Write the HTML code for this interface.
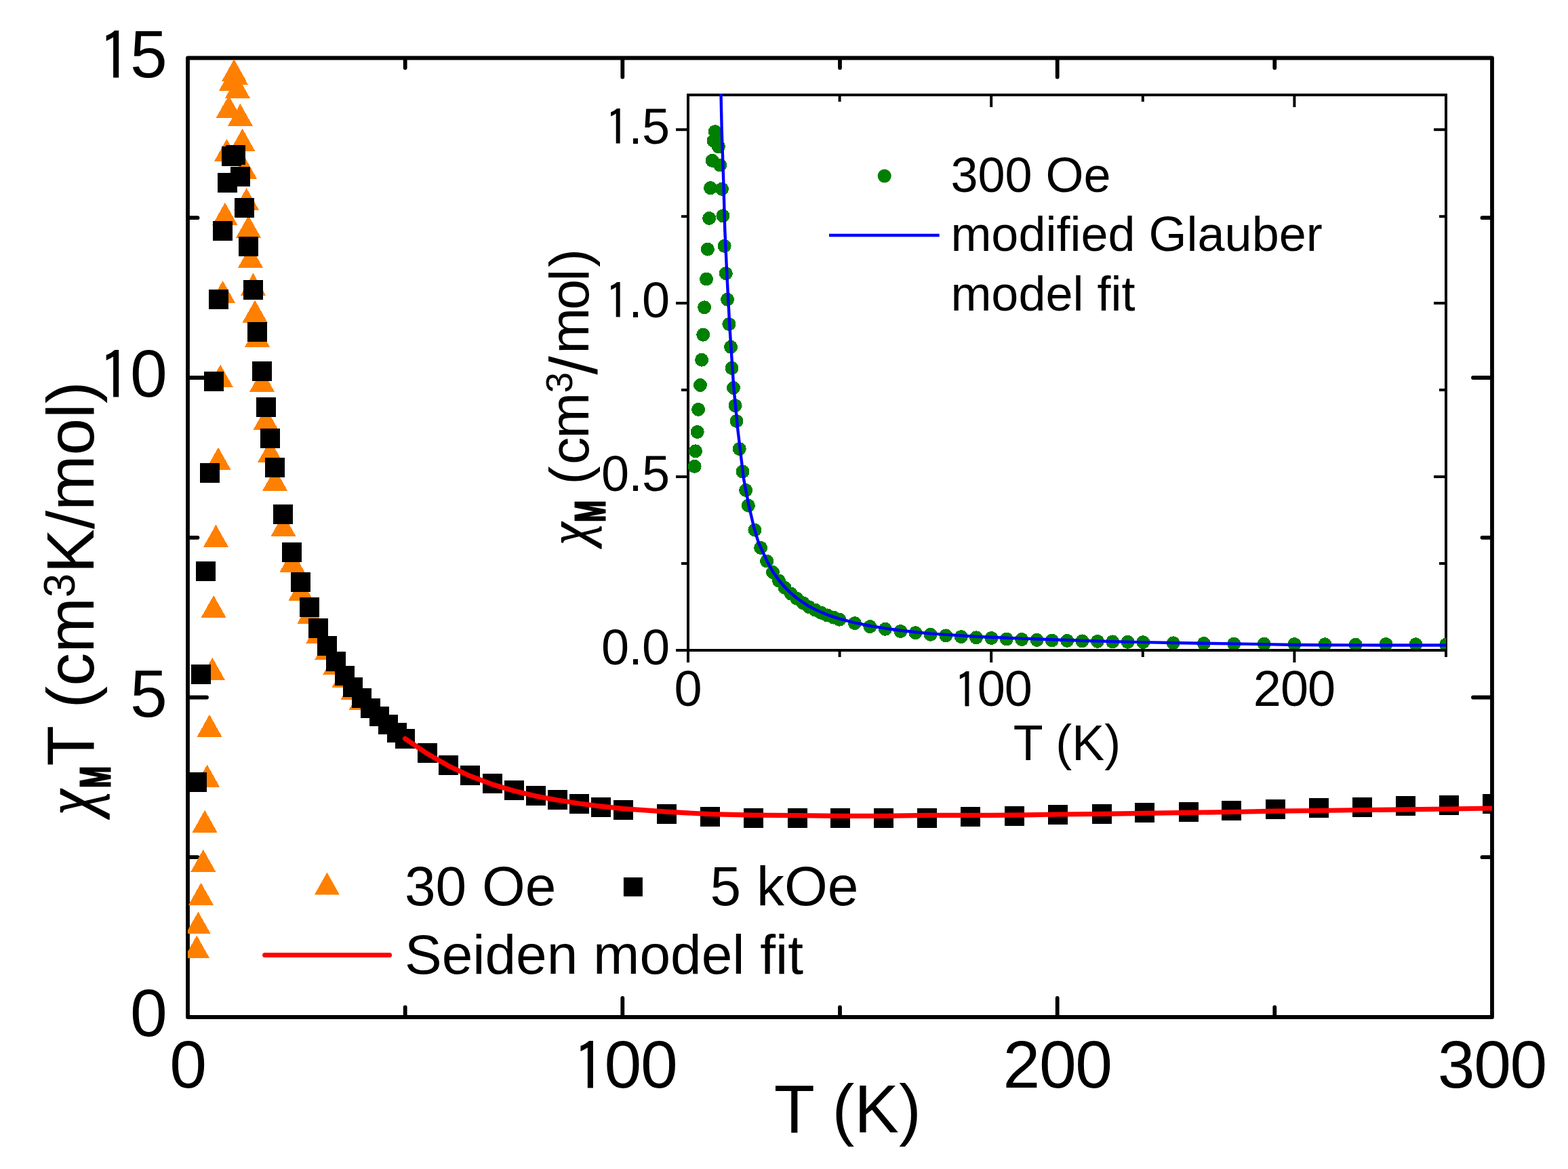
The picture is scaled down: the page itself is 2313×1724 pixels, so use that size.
<!DOCTYPE html>
<html lang="en"><head><meta charset="utf-8"><title>Magnetic susceptibility plot</title>
<style>html,body{margin:0;padding:0;background:#fff;}svg{display:block;}text{font-family:"Liberation Sans",sans-serif;fill:#000;}</style></head><body>
<svg width="2313" height="1724" viewBox="0 0 2313 1724">
<rect x="0" y="0" width="2313" height="1724" fill="#fff"/>
<defs><clipPath id="cm"><rect x="277" y="85.5" width="1924" height="1414.5"/></clipPath><clipPath id="ci"><rect x="1015" y="138" width="1118" height="819"/></clipPath></defs>
<g id="main-axes" stroke="#000" stroke-width="5.8" fill="none" stroke-linecap="round" stroke-linejoin="round">
<rect x="277.0" y="85.5" width="1924.0" height="1414.5"/>
<line x1="597.7" y1="1499.0" x2="597.7" y2="1485.5"/>
<line x1="597.7" y1="86.5" x2="597.7" y2="100.0"/>
<line x1="918.3" y1="1499.0" x2="918.3" y2="1472.0"/>
<line x1="918.3" y1="86.5" x2="918.3" y2="113.5"/>
<line x1="1239.0" y1="1499.0" x2="1239.0" y2="1485.5"/>
<line x1="1239.0" y1="86.5" x2="1239.0" y2="100.0"/>
<line x1="1559.7" y1="1499.0" x2="1559.7" y2="1472.0"/>
<line x1="1559.7" y1="86.5" x2="1559.7" y2="113.5"/>
<line x1="1880.3" y1="1499.0" x2="1880.3" y2="1485.5"/>
<line x1="1880.3" y1="86.5" x2="1880.3" y2="100.0"/>
<line x1="278.0" y1="1264.2" x2="291.5" y2="1264.2"/>
<line x1="2200.0" y1="1264.2" x2="2186.5" y2="1264.2"/>
<line x1="278.0" y1="1028.5" x2="305.0" y2="1028.5"/>
<line x1="2200.0" y1="1028.5" x2="2173.0" y2="1028.5"/>
<line x1="278.0" y1="792.8" x2="291.5" y2="792.8"/>
<line x1="2200.0" y1="792.8" x2="2186.5" y2="792.8"/>
<line x1="278.0" y1="557.0" x2="305.0" y2="557.0"/>
<line x1="2200.0" y1="557.0" x2="2173.0" y2="557.0"/>
<line x1="278.0" y1="321.2" x2="291.5" y2="321.2"/>
<line x1="2200.0" y1="321.2" x2="2186.5" y2="321.2"/>
</g>
<g id="main-data" clip-path="url(#cm)" shape-rendering="crispEdges">
<g id="series-30Oe" fill="#FF8000">
<polygon points="271.8,1412.5 308.8,1412.5 290.3,1379.5"/>
<polygon points="273.9,1377.4 310.9,1377.4 292.4,1344.4"/>
<polygon points="278.0,1334.8 315.0,1334.8 296.5,1301.8"/>
<polygon points="281.3,1285.8 318.3,1285.8 299.8,1252.8"/>
<polygon points="283.6,1227.7 320.6,1227.7 302.1,1194.7"/>
<polygon points="287.1,1160.6 324.1,1160.6 305.6,1127.6"/>
<polygon points="290.5,1086.8 327.5,1086.8 309.0,1053.8"/>
<polygon points="294.8,1002.7 331.8,1002.7 313.3,969.7"/>
<polygon points="296.6,910.9 333.6,910.9 315.1,877.9"/>
<polygon points="300.0,806.7 337.0,806.7 318.5,773.7"/>
<polygon points="303.5,692.7 340.5,692.7 322.0,659.7"/>
<polygon points="306.7,570.7 343.7,570.7 325.2,537.7"/>
<polygon points="310.1,446.9 347.1,446.9 328.6,413.9"/>
<polygon points="313.4,331.7 350.4,331.7 331.9,298.7"/>
<polygon points="316.0,237.8 353.0,237.8 334.5,204.8"/>
<polygon points="318.9,173.6 355.9,173.6 337.4,140.6"/>
<polygon points="323.0,133.6 360.0,133.6 341.5,100.6"/>
<polygon points="326.8,120.3 363.8,120.3 345.3,87.3"/>
<polygon points="328.9,125.2 365.9,125.2 347.4,92.2"/>
<polygon points="331.9,144.8 368.9,144.8 350.4,111.8"/>
<polygon points="335.9,185.9 372.9,185.9 354.4,152.9"/>
<polygon points="339.1,222.5 376.1,222.5 357.6,189.5"/>
<polygon points="342.0,263.6 379.0,263.6 360.5,230.6"/>
<polygon points="345.1,310.1 382.1,310.1 363.6,277.1"/>
<polygon points="348.0,350.7 385.0,350.7 366.5,317.7"/>
<polygon points="351.0,394.9 388.0,394.9 369.5,361.9"/>
<polygon points="355.0,435.7 392.0,435.7 373.5,402.7"/>
<polygon points="357.6,475.6 394.6,475.6 376.1,442.6"/>
<polygon points="361.0,511.8 398.0,511.8 379.5,478.8"/>
<polygon points="368.0,577.8 405.0,577.8 386.5,544.8"/>
<polygon points="373.6,633.8 410.6,633.8 392.1,600.8"/>
<polygon points="380.1,681.8 417.1,681.8 398.6,648.8"/>
<polygon points="387.1,723.8 424.1,723.8 405.6,690.8"/>
<polygon points="399.5,790.9 436.5,790.9 418.0,757.9"/>
<polygon points="412.5,843.7 449.5,843.7 431.0,810.7"/>
<polygon points="425.4,885.9 462.4,885.9 443.9,852.9"/>
<polygon points="438.3,919.9 475.3,919.9 456.8,886.9"/>
<polygon points="451.3,948.8 488.3,948.8 469.8,915.8"/>
<polygon points="464.3,972.8 501.3,972.8 482.8,939.8"/>
<polygon points="476.4,994.7 513.4,994.7 494.9,961.7"/>
<polygon points="489.5,1013.9 526.5,1013.9 508.0,980.9"/>
<polygon points="502.4,1031.8 539.4,1031.8 520.9,998.8"/>
<polygon points="514.5,1046.9 551.5,1046.9 533.0,1013.9"/>
</g>
<g id="series-5kOe" fill="#000">
<rect x="276.2" y="1139.0" width="29.0" height="29.0"/>
<rect x="281.5" y="980.0" width="29.0" height="29.0"/>
<rect x="288.5" y="828.0" width="29.0" height="29.0"/>
<rect x="294.5" y="683.4" width="29.0" height="29.0"/>
<rect x="300.5" y="547.9" width="29.0" height="29.0"/>
<rect x="308.0" y="426.8" width="29.0" height="29.0"/>
<rect x="313.5" y="326.4" width="29.0" height="29.0"/>
<rect x="320.5" y="255.0" width="29.0" height="29.0"/>
<rect x="326.6" y="215.9" width="29.0" height="29.0"/>
<rect x="332.6" y="213.5" width="29.0" height="29.0"/>
<rect x="339.6" y="246.4" width="29.0" height="29.0"/>
<rect x="346.0" y="291.5" width="29.0" height="29.0"/>
<rect x="352.0" y="349.4" width="29.0" height="29.0"/>
<rect x="358.5" y="412.5" width="29.0" height="29.0"/>
<rect x="365.0" y="475.0" width="29.0" height="29.0"/>
<rect x="371.5" y="532.8" width="29.0" height="29.0"/>
<rect x="378.0" y="585.9" width="29.0" height="29.0"/>
<rect x="383.9" y="632.4" width="29.0" height="29.0"/>
<rect x="391.0" y="674.5" width="29.0" height="29.0"/>
<rect x="403.0" y="744.0" width="29.0" height="29.0"/>
<rect x="416.0" y="799.5" width="29.0" height="29.0"/>
<rect x="429.0" y="844.4" width="29.0" height="29.0"/>
<rect x="442.0" y="881.0" width="29.0" height="29.0"/>
<rect x="455.0" y="911.9" width="29.0" height="29.0"/>
<rect x="467.5" y="937.9" width="29.0" height="29.0"/>
<rect x="480.5" y="960.9" width="29.0" height="29.0"/>
<rect x="493.5" y="981.5" width="29.0" height="29.0"/>
<rect x="505.9" y="999.1" width="29.0" height="29.0"/>
<rect x="519.0" y="1014.5" width="29.0" height="29.0"/>
<rect x="531.5" y="1030.0" width="29.0" height="29.0"/>
<rect x="545.0" y="1042.0" width="29.0" height="29.0"/>
<rect x="558.1" y="1054.2" width="29.0" height="29.0"/>
<rect x="571.1" y="1065.5" width="29.0" height="29.0"/>
<rect x="583.1" y="1075.0" width="29.0" height="29.0"/>
<rect x="616.1" y="1095.9" width="29.0" height="29.0"/>
<rect x="647.0" y="1114.0" width="29.0" height="29.0"/>
<rect x="679.0" y="1128.9" width="29.0" height="29.0"/>
<rect x="711.5" y="1140.5" width="29.0" height="29.0"/>
<rect x="743.5" y="1150.5" width="29.0" height="29.0"/>
<rect x="776.0" y="1158.9" width="29.0" height="29.0"/>
<rect x="808.0" y="1165.4" width="29.0" height="29.0"/>
<rect x="840.0" y="1170.9" width="29.0" height="29.0"/>
<rect x="872.0" y="1175.9" width="29.0" height="29.0"/>
<rect x="904.5" y="1180.0" width="29.0" height="29.0"/>
<rect x="968.5" y="1186.0" width="29.0" height="29.0"/>
<rect x="1032.5" y="1189.5" width="29.0" height="29.0"/>
<rect x="1097.0" y="1191.6" width="29.0" height="29.0"/>
<rect x="1161.7" y="1192.1" width="29.0" height="29.0"/>
<rect x="1224.5" y="1192.1" width="29.0" height="29.0"/>
<rect x="1289.0" y="1192.1" width="29.0" height="29.0"/>
<rect x="1353.0" y="1191.6" width="29.0" height="29.0"/>
<rect x="1417.1" y="1190.0" width="29.0" height="29.0"/>
<rect x="1482.0" y="1189.0" width="29.0" height="29.0"/>
<rect x="1546.0" y="1187.4" width="29.0" height="29.0"/>
<rect x="1610.5" y="1185.5" width="29.0" height="29.0"/>
<rect x="1674.0" y="1184.0" width="29.0" height="29.0"/>
<rect x="1739.0" y="1182.5" width="29.0" height="29.0"/>
<rect x="1802.0" y="1181.0" width="29.0" height="29.0"/>
<rect x="1866.5" y="1178.9" width="29.0" height="29.0"/>
<rect x="1930.5" y="1177.0" width="29.0" height="29.0"/>
<rect x="1994.5" y="1175.9" width="29.0" height="29.0"/>
<rect x="2058.5" y="1173.9" width="29.0" height="29.0"/>
<rect x="2122.9" y="1172.5" width="29.0" height="29.0"/>
<rect x="2186.9" y="1171.0" width="29.0" height="29.0"/>
</g>
</g>
<g clip-path="url(#cm)">
<polyline id="seiden-fit" points="597.5,1089.2 630.6,1111.7 661.5,1129.4 693.5,1144.4 726.0,1156.7 758.0,1166.2 790.5,1174.1 822.5,1180.0 854.5,1185.0 880.0,1188.4 919.0,1192.6 983.0,1197.2 1047.0,1200.7 1111.5,1202.1 1176.5,1202.6 1239.0,1203.3 1303.0,1203.3 1367.0,1202.4 1431.0,1202.4 1460.0,1202.4 1511.0,1201.9 1561.0,1201.0 1625.0,1200.4 1688.0,1199.4 1753.0,1198.4 1816.5,1197.5 1881.0,1196.2 1945.0,1195.5 2009.0,1194.5 2073.0,1193.9 2137.0,1193.0 2201.0,1192.0" fill="none" stroke="#FF0000" stroke-width="7.2" stroke-linecap="round" stroke-linejoin="round"/>
</g>
<g id="inset-axes" stroke="#000" stroke-width="4.0" fill="none" stroke-linecap="butt" stroke-linejoin="miter">
<rect x="1015.0" y="140.0" width="1118.0" height="819.0"/>
<line x1="1015.0" y1="959.0" x2="1015.0" y2="977.0"/>
<line x1="1238.6" y1="959.0" x2="1238.6" y2="969.0"/>
<line x1="1238.6" y1="140.0" x2="1238.6" y2="150.0"/>
<line x1="1462.2" y1="959.0" x2="1462.2" y2="977.0"/>
<line x1="1462.2" y1="140.0" x2="1462.2" y2="158.0"/>
<line x1="1685.8" y1="959.0" x2="1685.8" y2="969.0"/>
<line x1="1685.8" y1="140.0" x2="1685.8" y2="150.0"/>
<line x1="1909.4" y1="959.0" x2="1909.4" y2="977.0"/>
<line x1="1909.4" y1="140.0" x2="1909.4" y2="158.0"/>
<line x1="2133.0" y1="959.0" x2="2133.0" y2="969.0"/>
<line x1="1015.0" y1="959.0" x2="997.0" y2="959.0"/>
<line x1="1015.0" y1="831.0" x2="1005.0" y2="831.0"/>
<line x1="2133.0" y1="831.0" x2="2123.0" y2="831.0"/>
<line x1="1015.0" y1="703.1" x2="997.0" y2="703.1"/>
<line x1="2133.0" y1="703.1" x2="2115.0" y2="703.1"/>
<line x1="1015.0" y1="575.1" x2="1005.0" y2="575.1"/>
<line x1="2133.0" y1="575.1" x2="2123.0" y2="575.1"/>
<line x1="1015.0" y1="447.1" x2="997.0" y2="447.1"/>
<line x1="2133.0" y1="447.1" x2="2115.0" y2="447.1"/>
<line x1="1015.0" y1="319.2" x2="1005.0" y2="319.2"/>
<line x1="2133.0" y1="319.2" x2="2123.0" y2="319.2"/>
<line x1="1015.0" y1="191.2" x2="997.0" y2="191.2"/>
<line x1="2133.0" y1="191.2" x2="2115.0" y2="191.2"/>
</g>
<g id="inset-data" clip-path="url(#ci)">
<g id="series-300Oe" fill="#008000" shape-rendering="crispEdges">
<circle cx="1024.6" cy="687.8" r="10"/>
<circle cx="1026.0" cy="665.3" r="10"/>
<circle cx="1028.7" cy="637.0" r="10"/>
<circle cx="1030.1" cy="603.9" r="10"/>
<circle cx="1033.0" cy="568.0" r="10"/>
<circle cx="1035.1" cy="530.7" r="10"/>
<circle cx="1037.2" cy="493.7" r="10"/>
<circle cx="1039.1" cy="453.3" r="10"/>
<circle cx="1042.0" cy="411.6" r="10"/>
<circle cx="1043.9" cy="367.6" r="10"/>
<circle cx="1046.2" cy="321.9" r="10"/>
<circle cx="1048.0" cy="277.2" r="10"/>
<circle cx="1050.7" cy="236.9" r="10"/>
<circle cx="1052.6" cy="207.6" r="10"/>
<circle cx="1054.8" cy="194.1" r="10"/>
<circle cx="1057.6" cy="200.0" r="10"/>
<circle cx="1059.9" cy="216.3" r="10"/>
<circle cx="1062.1" cy="243.5" r="10"/>
<circle cx="1065.0" cy="278.8" r="10"/>
<circle cx="1066.4" cy="318.3" r="10"/>
<circle cx="1068.6" cy="362.8" r="10"/>
<circle cx="1070.8" cy="403.2" r="10"/>
<circle cx="1073.0" cy="441.7" r="10"/>
<circle cx="1075.4" cy="478.0" r="10"/>
<circle cx="1078.1" cy="511.8" r="10"/>
<circle cx="1079.5" cy="542.9" r="10"/>
<circle cx="1082.0" cy="572.0" r="10"/>
<circle cx="1084.6" cy="598.1" r="10"/>
<circle cx="1086.5" cy="621.0" r="10"/>
<circle cx="1090.7" cy="662.0" r="10"/>
<circle cx="1095.5" cy="695.4" r="10"/>
<circle cx="1100.1" cy="723.0" r="10"/>
<circle cx="1103.9" cy="745.6" r="10"/>
<circle cx="1113.4" cy="781.6" r="10"/>
<circle cx="1122.1" cy="807.9" r="10"/>
<circle cx="1131.1" cy="827.5" r="10"/>
<circle cx="1140.0" cy="844.0" r="10"/>
<circle cx="1149.0" cy="856.6" r="10"/>
<circle cx="1157.7" cy="866.8" r="10"/>
<circle cx="1166.7" cy="875.5" r="10"/>
<circle cx="1175.4" cy="882.7" r="10"/>
<circle cx="1184.6" cy="889.3" r="10"/>
<circle cx="1193.3" cy="895.1" r="10"/>
<circle cx="1202.5" cy="899.5" r="10"/>
<circle cx="1211.5" cy="903.8" r="10"/>
<circle cx="1220.5" cy="907.4" r="10"/>
<circle cx="1229.6" cy="910.6" r="10"/>
<circle cx="1238.3" cy="913.7" r="10"/>
<circle cx="1260.9" cy="919.1" r="10"/>
<circle cx="1283.4" cy="924.1" r="10"/>
<circle cx="1305.9" cy="927.8" r="10"/>
<circle cx="1328.4" cy="931.0" r="10"/>
<circle cx="1350.5" cy="933.3" r="10"/>
<circle cx="1372.7" cy="935.8" r="10"/>
<circle cx="1395.3" cy="937.4" r="10"/>
<circle cx="1417.8" cy="939.1" r="10"/>
<circle cx="1440.0" cy="940.3" r="10"/>
<circle cx="1462.4" cy="941.0" r="10"/>
<circle cx="1484.9" cy="942.5" r="10"/>
<circle cx="1507.1" cy="943.0" r="10"/>
<circle cx="1529.6" cy="943.9" r="10"/>
<circle cx="1551.8" cy="944.5" r="10"/>
<circle cx="1574.2" cy="944.9" r="10"/>
<circle cx="1596.4" cy="945.4" r="10"/>
<circle cx="1619.0" cy="945.9" r="10"/>
<circle cx="1641.2" cy="946.4" r="10"/>
<circle cx="1663.6" cy="946.8" r="10"/>
<circle cx="1686.2" cy="947.1" r="10"/>
<circle cx="1730.8" cy="948.3" r="10"/>
<circle cx="1775.9" cy="949.0" r="10"/>
<circle cx="1820.2" cy="949.6" r="10"/>
<circle cx="1864.8" cy="949.7" r="10"/>
<circle cx="1909.5" cy="950.0" r="10"/>
<circle cx="1954.5" cy="950.3" r="10"/>
<circle cx="1999.6" cy="950.7" r="10"/>
<circle cx="2044.5" cy="950.0" r="10"/>
<circle cx="2088.5" cy="950.3" r="10"/>
<circle cx="2133.1" cy="950.7" r="10"/>
</g>
<polyline id="glauber-fit" points="1063.5,137.0 1064.7,192.6 1067.2,265.3 1069.3,340.0 1072.7,412.6 1076.6,485.3 1082.2,570.0 1088.2,632.6 1096.9,705.3 1104.5,745.0 1112.2,777.9 1118.7,799.7 1122.6,808.5 1131.5,827.5 1140.3,843.5 1149.3,856.2 1158.0,866.3 1167.0,875.0 1175.7,882.2 1184.8,888.6 1193.5,894.3 1202.7,898.9 1211.7,903.0 1220.7,906.6 1229.8,909.8 1238.5,912.7 1260.9,918.3 1283.4,923.0 1305.9,926.7 1328.4,929.8 1350.5,932.3 1372.7,934.4 1395.3,935.9 1417.8,937.4 1440.0,938.7 1462.4,939.8 1507.0,941.6 1551.8,943.2 1596.0,944.7 1641.2,946.1 1686.0,947.1 1731.0,948.0 1776.0,948.7 1820.0,949.4 1865.0,950.1 1909.5,951.0 1954.0,951.2 2000.0,951.4 2044.0,951.5 2088.0,951.5 2133.0,951.5" fill="none" stroke="#0000FF" stroke-width="4.4" stroke-linejoin="round"/>
</g>
<g id="legend-symbols">
<polygon points="463.9,1319.6 500.9,1319.6 482.4,1286.6" fill="#FF8000"/>
<rect x="919.9" y="1294" width="28" height="28" fill="#000"/>
<line x1="390.6" y1="1408.5" x2="574.6" y2="1408.5" stroke="#FF0000" stroke-width="7" stroke-linecap="round"/>
<circle cx="1304.7" cy="259.6" r="10" fill="#008000"/>
<line x1="1223" y1="347" x2="1385.7" y2="347" stroke="#0000FF" stroke-width="4.4"/>
</g>
<g id="main-tick-labels">
<text font-size="98.5"><tspan x="145.0" y="118.9" font-size="98.9" style="font-family:IPAGothic,'Liberation Sans',sans-serif">1</tspan><tspan x="191.9" y="114">5</tspan></text>
<text font-size="98.5"><tspan x="145.0" y="589.9" font-size="98.9" style="font-family:IPAGothic,'Liberation Sans',sans-serif">1</tspan><tspan x="191.9" y="585">0</tspan></text>
<text font-size="98.5"><tspan x="191.9" y="1056.5">5</tspan></text>
<text font-size="98.5"><tspan x="191.9" y="1528">0</tspan></text>
<text font-size="98.5"><tspan x="250.2" y="1603.8">0</tspan></text>
<text font-size="98.5"><tspan x="844.7" y="1608.7" font-size="98.9" style="font-family:IPAGothic,'Liberation Sans',sans-serif">1</tspan><tspan x="891.6" y="1603.8">0</tspan><tspan x="944.9" y="1603.8">0</tspan></text>
<text font-size="98.5"><tspan x="1479.5" y="1603.8">2</tspan><tspan x="1532.9" y="1603.8">0</tspan><tspan x="1586.3" y="1603.8">0</tspan></text>
<text font-size="98.5"><tspan x="2120.8" y="1603.8">3</tspan><tspan x="2174.2" y="1603.8">0</tspan><tspan x="2227.6" y="1603.8">0</tspan></text>
</g>
<text transform="translate(1141.8,1669.8) scale(0.985,1)" font-size="100" text-anchor="start" >T (K)</text>
<g id="main-ytitle" transform="translate(138,0) rotate(-90)">
<text transform="translate(-1201.5,0) scale(0.79,1)" font-style="italic" font-size="105" stroke="#000" stroke-width="1.6" style="font-family:'Liberation Serif','DejaVu Serif',serif">χ</text>
<text transform="translate(-1162,24.3) scale(0.61,1)" font-size="63" font-weight="bold" stroke="#000" stroke-width="3" stroke-linejoin="miter">M</text>
<text font-size="98" x="-1129.8" y="0">T (cm<tspan font-size="64" dy="-28.5">3</tspan><tspan dy="28.5">K/mol)</tspan></text>
</g>
<g id="inset-tick-labels">
<text font-size="73.9"><tspan x="892.5" y="215.4" font-size="72.6" style="font-family:IPAGothic,'Liberation Sans',sans-serif">1</tspan><tspan x="927.2" y="211.8">.</tspan><tspan x="946.9" y="211.8">5</tspan></text>
<text font-size="73.9"><tspan x="892.5" y="471.4" font-size="72.6" style="font-family:IPAGothic,'Liberation Sans',sans-serif">1</tspan><tspan x="927.2" y="467.8">.</tspan><tspan x="946.9" y="467.8">0</tspan></text>
<text font-size="73.9"><tspan x="886.9" y="723.7">0</tspan><tspan x="927.2" y="723.7">.</tspan><tspan x="946.9" y="723.7">5</tspan></text>
<text font-size="73.9"><tspan x="886.9" y="979.7">0</tspan><tspan x="927.2" y="979.7">.</tspan><tspan x="946.9" y="979.7">0</tspan></text>
<text font-size="73.9"><tspan x="994.5" y="1041">0</tspan></text>
<text font-size="73.9"><tspan x="1407.2" y="1044.6" font-size="72.6" style="font-family:IPAGothic,'Liberation Sans',sans-serif">1</tspan><tspan x="1441.7" y="1041">0</tspan><tspan x="1481.7" y="1041">0</tspan></text>
<text font-size="73.9"><tspan x="1848.8" y="1041">2</tspan><tspan x="1888.9" y="1041">0</tspan><tspan x="1928.9" y="1041">0</tspan></text>
</g>
<text transform="translate(1494.7,1121) scale(0.972,1)" font-size="74" text-anchor="start" >T (K)</text>
<g id="inset-ytitle" transform="translate(868,0) rotate(-90)">
<text transform="translate(-803.2,0) scale(0.842,1)" font-style="italic" font-size="87" stroke="#000" stroke-width="1.3" style="font-family:'Liberation Serif','DejaVu Serif',serif">χ</text>
<text transform="translate(-770,24.3) scale(0.61,1)" font-size="63" font-weight="bold" stroke="#000" stroke-width="3" stroke-linejoin="miter">M</text>
<text font-size="81" y="0"><tspan x="-714.6 -685.0 -646.6">(cm</tspan><tspan x="-579.6" y="-24" font-size="55">3</tspan><tspan x="-552.5" y="12" font-size="98">/</tspan><tspan x="-521.6 -457.1 -414.7 -393.9" y="0">mol)</tspan></text>
</g>
<g id="main-legend">
<text x="597" y="1335" font-size="82" text-anchor="start" >30 Oe</text>
<text x="1047.6" y="1335" font-size="82" text-anchor="start" >5 kOe</text>
<text x="597" y="1435.5" font-size="82" text-anchor="start" >Seiden model fit</text>
</g>
<g id="inset-legend">
<text x="1402.4" y="283" font-size="72" text-anchor="start" >300 Oe</text>
<text x="1402.4" y="369.6" font-size="72" text-anchor="start" >modified Glauber</text>
<text x="1402.4" y="458" font-size="72" text-anchor="start" >model fit</text>
</g>
</svg></body></html>
